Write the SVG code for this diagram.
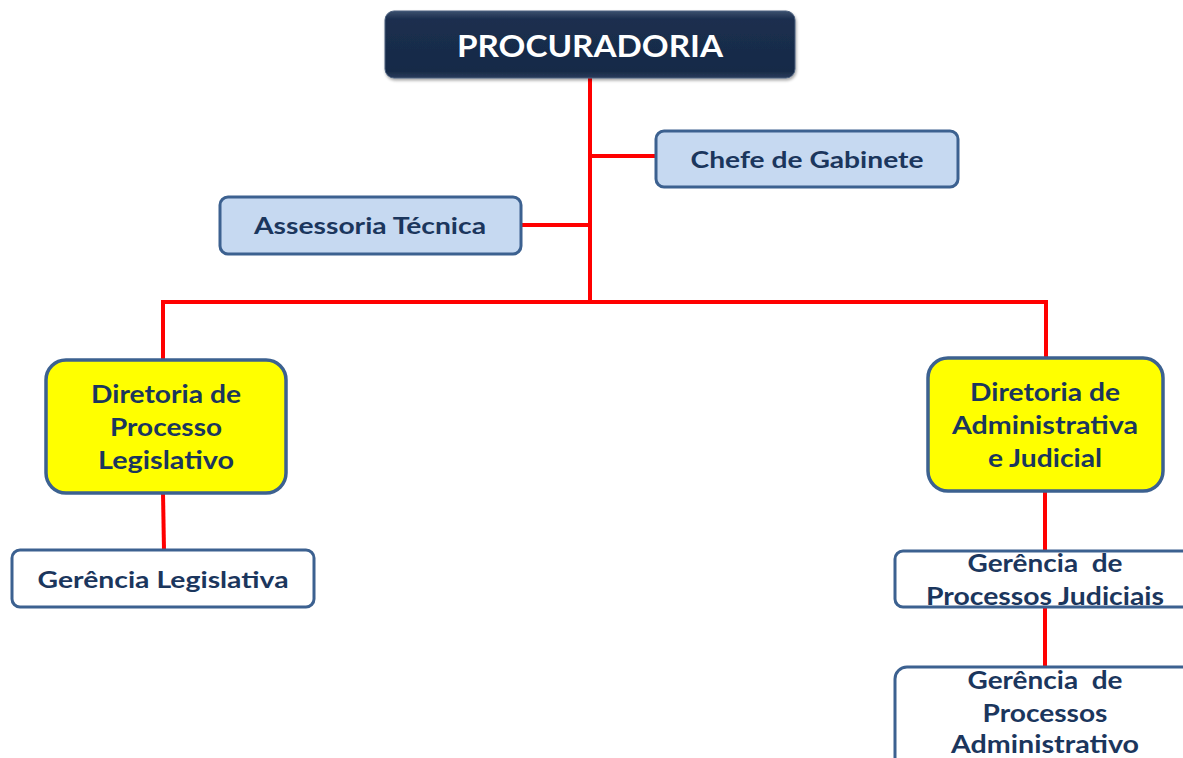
<svg xmlns="http://www.w3.org/2000/svg" width="1183" height="758" viewBox="0 0 1183 758">
<defs>
<linearGradient id="gTop" x1="0" y1="0" x2="0" y2="1">
<stop offset="0" stop-color="#3b506e"/>
<stop offset="0.12" stop-color="#1b2f4f"/>
<stop offset="0.9" stop-color="#172a47"/>
<stop offset="1" stop-color="#2a3d5c"/>
</linearGradient>
<filter id="sh" x="-5%" y="-10%" width="110%" height="130%">
<feDropShadow dx="1" dy="2" stdDeviation="1.5" flood-color="#000" flood-opacity="0.35"/>
</filter>
<style>
.ln{stroke:#ff0000;stroke-width:4;fill:none}
.blue{fill:#c6d9f1;stroke:#3c6190;stroke-width:3}
.yel{fill:#ffff00;stroke:#3c6190;stroke-width:3.5}
.wht{fill:#ffffff;stroke:#3c6190;stroke-width:3}
.t{font-family:Lato,"Open Sans","Liberation Sans",sans-serif;font-weight:bold;fill:#1b365d;text-anchor:middle}
</style>
</defs>
<rect width="1183" height="758" fill="#ffffff"/>
<g id="connectors">
<line class="ln" x1="590" y1="78" x2="590" y2="302"/>
<line class="ln" x1="590" y1="156" x2="656" y2="156"/>
<line class="ln" x1="521" y1="225" x2="590" y2="225"/>
<line class="ln" x1="161" y1="302" x2="1048" y2="302"/>
<line class="ln" x1="163" y1="300" x2="163" y2="360"/>
<line class="ln" x1="1046" y1="300" x2="1046" y2="358"/>
<line class="ln" x1="163" y1="493" x2="164" y2="550"/>
<line class="ln" x1="1045" y1="491" x2="1045" y2="551"/>
<line class="ln" x1="1045" y1="607" x2="1045" y2="667"/>
</g>
<g id="procuradoria">
<rect x="385" y="11" width="410" height="67" rx="9" fill="url(#gTop)" stroke="#4a5f7d" stroke-width="1" filter="url(#sh)"/>
<text x="590" y="57" font-family="Lato, Open Sans, Liberation Sans, sans-serif" font-weight="bold" font-size="31" fill="#ffffff" text-anchor="middle" textLength="266" lengthAdjust="spacingAndGlyphs">PROCURADORIA</text>
</g>
<g id="chefe">
<rect class="blue" x="656" y="131" width="302" height="56" rx="8"/>
<text class="t" x="807" y="168" font-size="23" textLength="233" lengthAdjust="spacingAndGlyphs">Chefe de Gabinete</text>
</g>
<g id="assessoria">
<rect class="blue" x="220" y="197" width="301" height="57" rx="8"/>
<text class="t" x="370" y="234" font-size="23" textLength="232" lengthAdjust="spacingAndGlyphs">Assessoria Técnica</text>
</g>
<g id="dir-legislativo">
<rect class="yel" x="46" y="360" width="240" height="133" rx="20"/>
<text class="t" x="166" y="403" font-size="24" textLength="150" lengthAdjust="spacingAndGlyphs">Diretoria de</text>
<text class="t" x="166" y="436" font-size="24" textLength="112" lengthAdjust="spacingAndGlyphs">Processo</text>
<text class="t" x="166" y="469" font-size="24" textLength="136" lengthAdjust="spacingAndGlyphs">Legislativo</text>
</g>
<g id="ger-legislativa">
<rect class="wht" x="12" y="550" width="302" height="57" rx="8"/>
<text class="t" x="163" y="588" font-size="23" textLength="251" lengthAdjust="spacingAndGlyphs">Gerência Legislativa</text>
</g>
<g id="dir-adm-judicial">
<rect class="yel" x="928" y="358" width="235" height="133" rx="20"/>
<text class="t" x="1045" y="401" font-size="24" textLength="150" lengthAdjust="spacingAndGlyphs">Diretoria de</text>
<text class="t" x="1045" y="434" font-size="24" textLength="186" lengthAdjust="spacingAndGlyphs">Administrativa</text>
<text class="t" x="1045" y="467" font-size="24" textLength="114" lengthAdjust="spacingAndGlyphs">e Judicial</text>
</g>
<g id="ger-judiciais">
<rect class="wht" x="895" y="551" width="300" height="56" rx="8"/>
<text class="t" x="1045" y="572" font-size="24" textLength="155" lengthAdjust="spacingAndGlyphs" xml:space="preserve">Gerência  de</text>
<text class="t" x="1045" y="605" font-size="24" textLength="238" lengthAdjust="spacingAndGlyphs">Processos Judiciais</text>
</g>
<g id="ger-administrativo">
<rect class="wht" x="895" y="667" width="300" height="110" rx="12"/>
<text class="t" x="1045" y="689" font-size="24" textLength="155" lengthAdjust="spacingAndGlyphs" xml:space="preserve">Gerência  de</text>
<text class="t" x="1045" y="722" font-size="24" textLength="125" lengthAdjust="spacingAndGlyphs">Processos</text>
<text class="t" x="1045" y="753" font-size="24" textLength="188" lengthAdjust="spacingAndGlyphs">Administrativo</text>
</g>
</svg>
